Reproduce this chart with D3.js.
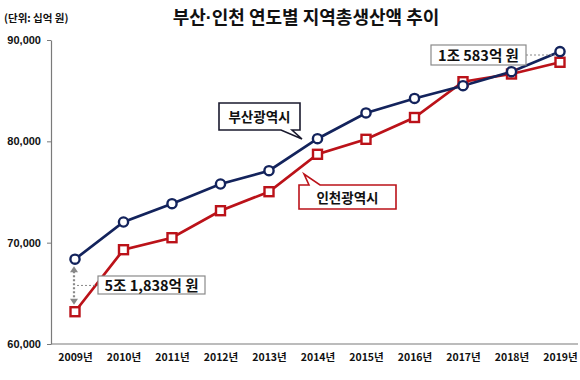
<!DOCTYPE html>
<html><head><meta charset="utf-8">
<script src="https://cdn.jsdelivr.net/npm/d3@7"></script>
<style>body{margin:0;background:#fff}svg{display:block}text{font-family:"Noto Sans CJK KR","Noto Sans",sans-serif}</style>
</head><body><svg id="c" width="580" height="380"></svg>
<script>
const years = ["2009년","2010년","2011년","2012년","2013년","2014년","2015년","2016년","2017년","2018년","2019년"];
const busan = [68370,72040,73845,75790,77100,80260,82800,84230,85490,86870,88860];
const incheon = [63186,69306,70490,73154,75030,78720,80200,82352,85885,86645,87802];
const yTicks = [60000,70000,80000,90000];
const titleParts = ["부산", "·", "인천 연도별 지역총생산액 추이"];
const unit = "(단위: 십억 원)";
const seriesNames = ["부산광역시","인천광역시"];
const notes = ["5조 1,838억 원","1조 583억 원"];

const svg = d3.select("#c");
const navy = "#13235c", red = "#bb1219", axisCol = "#7a7a7a";
const x = d3.scalePoint().domain(years).range([75,560]);
const y = d3.scaleLinear().domain([60000,90000]).range([344,40]);

const t = svg.append("text").attr("x",306).attr("y",24).attr("text-anchor","middle")
  .attr("font-size",18).attr("font-weight","bold").attr("fill","#111");
t.append("tspan").text(titleParts[0]);
t.append("tspan").style("font-family","'Liberation Sans',Arial,sans-serif").text(titleParts[1]);
t.append("tspan").text(titleParts[2]);
svg.append("text").attr("x",4).attr("y",22).attr("font-size",10.5).attr("font-weight","bold").attr("fill","#111").text(unit);

// y axis
const ya = svg.append("g").attr("transform","translate(51,0)")
  .call(d3.axisLeft(y).tickValues(yTicks).tickSize(4).tickSizeOuter(0).tickFormat(d3.format(",")));
ya.select(".domain").attr("stroke",axisCol).attr("stroke-width",1.2);
ya.selectAll(".tick line").attr("stroke",axisCol);
ya.selectAll(".tick text").attr("x",-10).attr("font-size",11).attr("font-weight","bold").attr("fill","#111")
  .style("font-family","'Liberation Sans',Arial,sans-serif");

// x axis
const xa = svg.append("g").attr("transform","translate(0,344)")
  .call(d3.axisBottom(x).tickSize(0).tickPadding(10));
xa.select(".domain").attr("d","M51,0H578").attr("stroke",axisCol).attr("stroke-width",1.2);
xa.selectAll(".tick text").attr("font-size",10.5).attr("font-weight","bold").attr("fill","#111");

// lines
const line = d3.line().x((d,i)=>x(years[i])).y(d=>y(d));
svg.append("path").datum(incheon).attr("d",line).attr("fill","none").attr("stroke",red).attr("stroke-width",2.7);
svg.append("path").datum(busan).attr("d",line).attr("fill","none").attr("stroke",navy).attr("stroke-width",2.7);
svg.selectAll(".sq").data(incheon).join("rect")
  .attr("x",(d,i)=>x(years[i])-4.5).attr("y",d=>y(d)-4.5).attr("width",9).attr("height",9)
  .attr("fill","#fff").attr("stroke",red).attr("stroke-width",2.4);
svg.selectAll(".ci").data(busan).join("circle")
  .attr("cx",(d,i)=>x(years[i])).attr("cy",d=>y(d)).attr("r",4.6)
  .attr("fill","#fff").attr("stroke",navy).attr("stroke-width",2.4);

// callout boxes
function callout(pts, stroke){
  svg.append("path").attr("d","M"+pts.map(p=>p.join(",")).join("L")+"Z")
    .attr("fill","#fff").attr("stroke",stroke).attr("stroke-width",1.6).attr("stroke-linejoin","miter");
}
callout([[219,103],[300,103],[300,130],[292,130],[302,139],[281,130],[219,130]],"#1a1a2e");
svg.append("text").attr("x",259.5).attr("y",121.5).attr("text-anchor","middle").attr("font-size",13.5)
  .attr("font-weight","bold").attr("fill","#111").text(seriesNames[0]);
callout([[299,185],[309,185],[304,174],[320,185],[396,185],[396,209],[299,209]],red);
svg.append("text").attr("x",347.5).attr("y",202.5).attr("text-anchor","middle").attr("font-size",13.5)
  .attr("font-weight","bold").attr("fill","#111").text(seriesNames[1]);

// difference notes
const gap0 = (y(busan[0])+y(incheon[0]))/2;
svg.append("line").attr("x1",x(years[0])+2).attr("x2",98).attr("y1",gap0).attr("y2",gap0)
  .attr("stroke","#888").attr("stroke-dasharray","2,2");
svg.append("line").attr("x1",x(years[0])-1).attr("x2",x(years[0])-1).attr("y1",y(busan[0])+12).attr("y2",y(incheon[0])-12)
  .attr("stroke","#888").attr("stroke-width",2.2).attr("stroke-dasharray","2,2");
const ax0 = x(years[0])-1;
svg.append("path").attr("d",`M${ax0},${y(busan[0])+7}l-4,6h8z`).attr("fill","#888");
svg.append("path").attr("d",`M${ax0},${y(incheon[0])-7}l-4,-6h8z`).attr("fill","#888");
svg.append("rect").attr("x",98).attr("y",276).attr("width",107).attr("height",18)
  .attr("fill","#fff").attr("stroke","#8a8a8a").attr("stroke-width",1.2);
svg.append("text").attr("x",151.5).attr("y",290.5).attr("text-anchor","middle").attr("font-size",14.5)
  .attr("font-weight","bold").attr("fill","#111").text(notes[0]);

svg.append("line").attr("x1",526).attr("x2",555).attr("y1",55).attr("y2",55)
  .attr("stroke","#888").attr("stroke-dasharray","2,2");
svg.append("rect").attr("x",431).attr("y",45).attr("width",95).attr("height",20)
  .attr("fill","#fff").attr("stroke","#8a8a8a").attr("stroke-width",1.2);
svg.append("text").attr("x",478.5).attr("y",60.5).attr("text-anchor","middle").attr("font-size",14.5)
  .attr("font-weight","bold").attr("fill","#111").text(notes[1]);
</script></body></html>
